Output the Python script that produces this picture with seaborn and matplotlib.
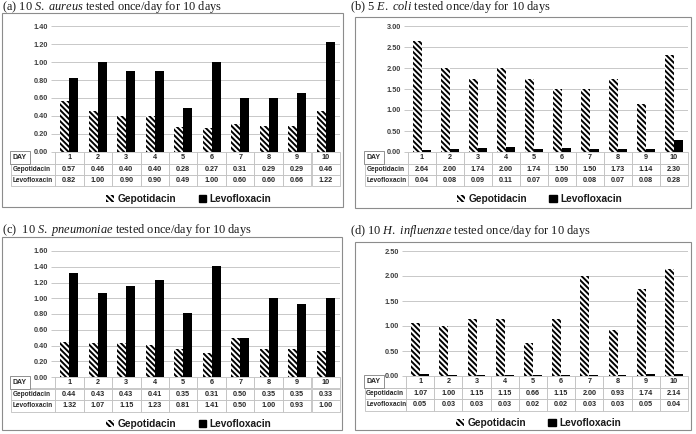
import pandas as pd
import matplotlib
matplotlib.use('Agg')
import matplotlib.pyplot as plt
from matplotlib.patches import Patch, Rectangle
import seaborn as sns

W, H = 696, 434

days = ['1', '2', '3', '4', '5', '6', '7', '8', '9', '10']

# (a) S. aureus
gepo_a = [0.57, 0.46, 0.40, 0.40, 0.28, 0.27, 0.31, 0.29, 0.29, 0.46]
levo_a = [0.82, 1.00, 0.90, 0.90, 0.49, 1.00, 0.60, 0.60, 0.66, 1.22]
# (b) E. coli
gepo_b = [2.64, 2.00, 1.74, 2.00, 1.74, 1.50, 1.50, 1.73, 1.14, 2.30]
levo_b = [0.04, 0.08, 0.09, 0.11, 0.07, 0.09, 0.08, 0.07, 0.08, 0.28]
# (c) S. pneumoniae
gepo_c = [0.44, 0.43, 0.43, 0.41, 0.35, 0.31, 0.50, 0.35, 0.35, 0.33]
levo_c = [1.32, 1.07, 1.15, 1.23, 0.81, 1.41, 0.50, 1.00, 0.93, 1.00]
# (d) H. influenzae
gepo_d = [1.07, 1.00, 1.15, 1.15, 0.66, 1.15, 2.00, 0.93, 1.74, 2.14]
levo_d = [0.05, 0.03, 0.03, 0.03, 0.02, 0.02, 0.03, 0.03, 0.05, 0.04]

titles = [
    r'(a) 10 $\mathit{S.\ aureus}$ tested once/day for 10 days',
    r'(b) 5 $\mathit{E.\ coli}$ tested once/day for 10 days',
    r'(c)  10 $\mathit{S.\ pneumoniae}$ tested once/day for 10 days',
    r'(d) 10 $\mathit{H.\ influenzae}$ tested once/day for 10 days',
]

HATCH = '\\\\\\\\\\\\'
SANS = ['Liberation Sans', 'DejaVu Sans']

sns.set_theme(style='white')
plt.rcParams['font.family'] = SANS
plt.rcParams['mathtext.fontset'] = 'custom'
plt.rcParams['mathtext.rm'] = 'Liberation Serif'
plt.rcParams['mathtext.it'] = 'Liberation Serif:italic'
plt.rcParams['hatch.linewidth'] = 1.4
plt.rcParams['hatch.color'] = 'black'


def px_rect(l, t, r, b):
    return [l / W, 1 - b / H, (r - l) / W, (b - t) / H]


def draw_panel(fig, plot_px, label_left, box_px, title, title_xy, gepo, levo, ymax, ystep):
    l, t, r, b = plot_px
    # panel frame
    bl, bt, br, bb = box_px
    fig.patches.append(Rectangle((bl / W, 1 - bb / H), (br - bl) / W, (bb - bt) / H,
                                 transform=fig.transFigure, fill=False,
                                 edgecolor='#8c8c8c', lw=0.8, zorder=0))
    fig.text(title_xy[0] / W, 1 - title_xy[1] / H, title, family='Liberation Serif',
             fontsize=8.9, va='center', ha='left', color='#1a1a1a')

    ax = fig.add_axes(px_rect(l, t, r, b))
    df = pd.DataFrame({
        'day': days * 2,
        'drug': ['Gepotidacin'] * len(days) + ['Levofloxacin'] * len(days),
        'value': gepo + levo,
    })
    sns.barplot(data=df, x='day', y='value', hue='drug', order=days,
                palette={'Gepotidacin': 'white', 'Levofloxacin': 'black'},
                width=0.63, saturation=1, legend=False, ax=ax,
                edgecolor='black', linewidth=0)
    for bar in ax.containers[0]:
        bar.set_hatch(HATCH)
        bar.set_linewidth(0)

    ax.set_ylim(0, ymax)
    n = int(round(ymax / ystep))
    ticks = [i * ystep for i in range(n + 1)]
    ax.set_yticks(ticks)
    ax.set_yticklabels([f'{v:.2f}' for v in ticks], fontsize=5.3, fontweight='bold',
                       color='#404040')
    ax.tick_params(axis='y', length=3, color='#bfbfbf', width=0.6, pad=2, left=True)
    ax.set_xticks([])
    ax.set_xlabel('')
    ax.set_ylabel('')
    ax.grid(axis='y', color='#c8c8c8', lw=0.7)
    ax.set_axisbelow(True)
    for s in ax.spines.values():
        s.set_visible(False)

    # data table under the bars
    lab_w = (l - label_left) / (r - l)
    row_h = 11.5 / (b - t)
    cells = [[''] + days,
             ['Gepotidacin'] + [f'{v:.2f}' for v in gepo],
             ['Levofloxacin'] + [f'{v:.2f}' for v in levo]]
    tbl = ax.table(cellText=cells, colWidths=[lab_w] + [0.1] * 10,
                   bbox=[-lab_w, -3 * row_h, 1 + lab_w, 3 * row_h], cellLoc='center')
    tbl.auto_set_font_size(False)
    tbl.set_fontsize(5.2)
    for (ri, ci), cell in tbl.get_celld().items():
        cell.set_edgecolor('#bfbfbf')
        cell.set_linewidth(0.6)
        cell.get_text().set_fontweight('bold')
        cell.get_text().set_color('#262626')
        if ci == 0:
            cell.set_text_props(ha='left', fontsize=4.7)
            cell.PAD = 0.03
        if ri == 0 and ci == 0:
            cell.visible_edges = 'BR'
    ax.text(-lab_w + 0.006, -row_h / 2, 'DAY', transform=ax.transAxes, fontsize=5.0,
            fontweight='bold', color='#262626', va='center', ha='left',
            bbox=dict(boxstyle='square,pad=0.45', fc='white', ec='#7f7f7f', lw=0.6))

    handles = [Patch(facecolor='white', edgecolor='black', hatch=HATCH, lw=0, label='Gepotidacin'),
               Patch(facecolor='black', edgecolor='black', label='Levofloxacin')]
    leg_y = -(3 * row_h + 12.5 / (b - t))
    ax.legend(handles=handles, loc='center', bbox_to_anchor=(0.47, leg_y), ncol=2,
              frameon=False, handlelength=0.75, handleheight=0.75, handletextpad=0.35,
              columnspacing=2.2, prop={'family': SANS, 'size': 7.3, 'weight': 'bold'},
              labelcolor='#1a1a1a')
    return ax


def main():
    fig = plt.figure(figsize=(W / 100, H / 100), dpi=100)
    draw_panel(fig, (55, 26, 340, 152), 11, (2, 13, 343, 207), titles[0], (2, 7),
               gepo_a, levo_a, 1.4, 0.2)
    draw_panel(fig, (408, 26, 688, 152), 365, (355, 17, 691, 208), titles[1], (350, 7),
               gepo_b, levo_b, 3.0, 0.5)
    draw_panel(fig, (55, 251, 340, 377), 11, (2, 237, 342, 430), titles[2], (2, 230),
               gepo_c, levo_c, 1.6, 0.2)
    draw_panel(fig, (406, 251, 688, 376), 365, (355, 242, 691, 430), titles[3], (350, 231),
               gepo_d, levo_d, 2.5, 0.5)
    fig.savefig('out.png', dpi=100, facecolor='white')
    plt.close(fig)


if __name__ == "__main__":
    main()
